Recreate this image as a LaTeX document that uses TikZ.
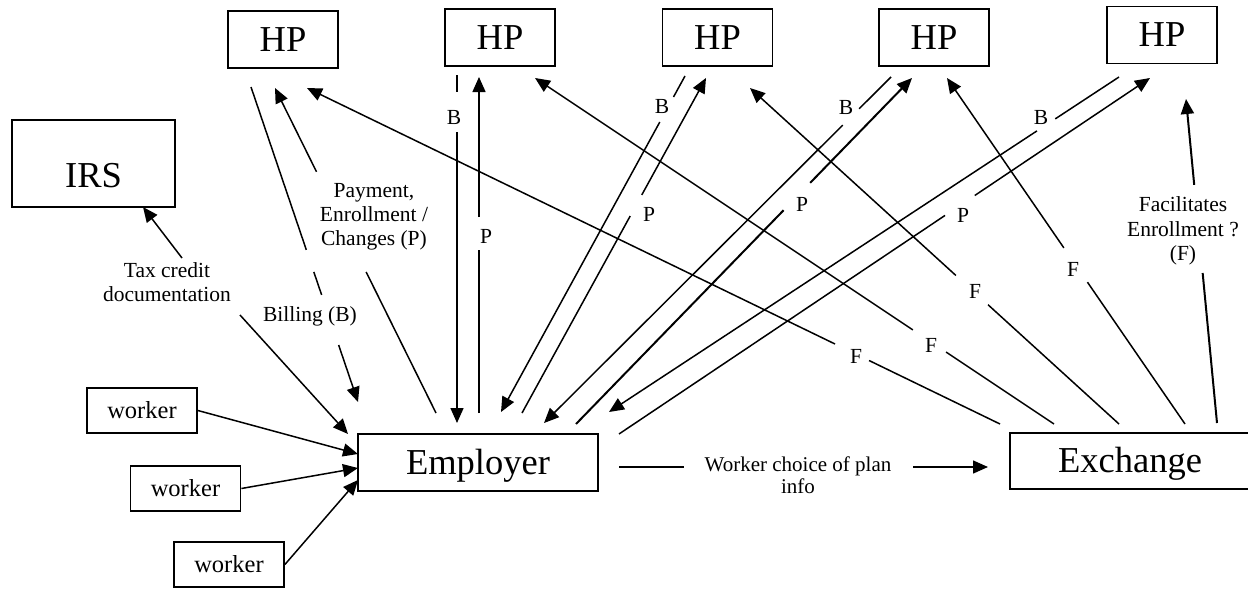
\documentclass[tikz,border=0pt]{standalone}
\usepackage{fontspec}
\setmainfont{Liberation Serif}
\usetikzlibrary{arrows.meta,calc}
\tikzset{
  bx/.style={draw, line width=1.8pt, inner sep=0pt, text height=23pt, text depth=0pt,
    font=\fontsize{36.5}{40}\selectfont},
  hpbox/.style={bx, minimum width=110pt, minimum height=57pt},
  wk/.style={draw, line width=1.8pt, inner sep=0pt, minimum width=110pt, minimum height=45pt,
    text height=16pt, text depth=0pt, font=\fontsize{24.5}{28}\selectfont},
  conn/.style={line width=1.5pt},
  thickconn/.style={line width=2pt},
  arr/.style={-{Triangle[length=15pt,width=13pt]}},
  lbl/.style={font=\fontsize{21.5}{24}\selectfont, inner sep=0pt, align=center},
}
\begin{document}
\begin{tikzpicture}[x=1pt,y=-1pt]
\useasboundingbox (0,0) rectangle (1248,589);
% boxes
\node[hpbox] (hp1) at (283,39.5) {HP};
\node[hpbox] (hp2) at (500,37.5) {HP};
\node[hpbox] (hp3) at (717.5,37.5) {HP};
\node[hpbox] (hp4) at (934,37.5) {HP};
\node[hpbox] (hp5) at (1162,35) {HP};
\node[bx, minimum width=163pt, minimum height=87pt, text height=47pt] (irs) at (93.5,163.5) {IRS};
\node[bx, minimum width=240pt, minimum height=57pt] (emp) at (478,462.5) {Employer};
\node[bx, minimum width=240pt, minimum height=56pt] (exch) at (1130,461) {Exchange};
\node[wk] (w1) at (142,410.5) {worker};
\node[wk] (w2) at (185.5,488.5) {worker};
\node[wk] (w3) at (229,564.5) {worker};

% free ends of connectors
\coordinate (tw1) at (358,454);
\coordinate (tw2) at (358,468);
\coordinate (tw3) at (358,480);
\coordinate (tx1) at (182,258);
\coordinate (tx2) at (143,207);
\coordinate (tx3) at (240,315);
\coordinate (tx4) at (348,434);
\coordinate (bils) at (251,87);
\coordinate (bile) at (358,402);
\coordinate (pay1s) at (436,413);
\coordinate (pay1e) at (275,88);
\coordinate (f1s) at (1000,424);
\coordinate (f1e) at (307,88);
\coordinate (f2s) at (1054,424);
\coordinate (f2e) at (535,78);
\coordinate (f3s) at (1119,424);
\coordinate (f3e) at (750,88);
\coordinate (f4s) at (1185,424);
\coordinate (f4e) at (947,78);
\coordinate (fcs) at (1217,423);
\coordinate (fce) at (1186,99);
\coordinate (wcs) at (619,467);
\coordinate (wce) at (988,467);
\coordinate (b2s) at (457,75);
\coordinate (b2e) at (457,423);
\coordinate (p2s) at (479,413);
\coordinate (p2e) at (479,77);
\coordinate (b3s) at (685,76);
\coordinate (b3e) at (501,412);
\coordinate (p3s) at (522,413);
\coordinate (p3e) at (706,78);
\coordinate (b4s) at (891,77);
\coordinate (b4e) at (544,423);
\coordinate (p4s) at (576,424);
\coordinate (p4e) at (912,78);
\coordinate (b5s) at (1119,77);
\coordinate (b5e) at (609,412);
\coordinate (p5s) at (619,434);
\coordinate (p5e) at (1150,78);

% workers to employer
\draw[conn,arr] (w1.east) -- (tw1);
\draw[conn,arr] (w2.east) -- (tw2);
\draw[conn,arr] (w3.east) -- (tw3);
% tax credit documentation
\draw[conn,arr] (tx1) -- (tx2);
\draw[conn,arr] (tx3) -- (tx4);
% billing and payment with HP 1
\draw[conn,arr] (bils) -- ($(bils)!0.517!(bile)$) ($(bils)!0.587!(bile)$) -- ($(bils)!0.660!(bile)$)
  ($(bils)!0.819!(bile)$) -- (bile);
\draw[conn,arr] (pay1s) -- ($(pay1s)!0.434!(pay1e)$) ($(pay1s)!0.742!(pay1e)$) -- (pay1e);
% B and P lines
\draw[conn,arr] (b2s) -- ($(b2s)!0.049!(b2e)$) ($(b2s)!0.164!(b2e)$) -- (b2e);
\draw[conn,arr] (p2s) -- ($(p2s)!0.485!(p2e)$) ($(p2s)!0.583!(p2e)$) -- (p2e);
\draw[conn,arr] (b3s) -- ($(b3s)!0.0625!(b3e)$) ($(b3s)!0.137!(b3e)$) -- (b3e);
\draw[conn,arr] (p3s) -- ($(p3s)!0.588!(p3e)$) ($(p3s)!0.651!(p3e)$) -- (p3e);
\draw[conn,arr] (b4s) -- ($(b4s)!0.092!(b4e)$) ($(b4s)!0.139!(b4e)$) -- (b4e);
\draw[thickconn,arr] (p4s) -- ($(p4s)!0.618!(p4e)$) ($(p4s)!0.697!(p4e)$) -- (p4e);
\draw[conn,arr] (b5s) -- ($(b5s)!0.125!(b5e)$) ($(b5s)!0.161!(b5e)$) -- (b5e);
\draw[conn,arr] (p5s) -- ($(p5s)!0.614!(p5e)$) ($(p5s)!0.670!(p5e)$) -- (p5e);
% F lines from exchange
\draw[conn,arr] (f1s) -- ($(f1s)!0.189!(f1e)$) ($(f1s)!0.238!(f1e)$) -- (f1e);
\draw[conn,arr] (f2s) -- ($(f2s)!0.208!(f2e)$) ($(f2s)!0.272!(f2e)$) -- (f2e);
\draw[conn,arr] (f3s) -- ($(f3s)!0.355!(f3e)$) ($(f3s)!0.442!(f3e)$) -- (f3e);
\draw[conn,arr] (f4s) -- ($(f4s)!0.410!(f4e)$) ($(f4s)!0.509!(f4e)$) -- (f4e);
\draw[thickconn,arr] (fcs) -- ($(fcs)!0.463!(fce)$) ($(fcs)!0.735!(fce)$) -- (fce);
% worker choice
\draw[conn,arr] (wcs) -- ($(wcs)!0.176!(wce)$) ($(wcs)!0.797!(wce)$) -- (wce);

% labels
\node[lbl] (ltax) at (167,282) {Tax credit\\documentation};
\node[lbl] (lpay) at (374,217) {Payment,\\Enrollment /\\Changes (P)};
\node[lbl] (lbil) at (310,316) {Billing (B)};
\node[lbl, font=\fontsize{21}{22}\selectfont] (lwc) at (798,475) {Worker choice of plan\\info};
\node[lbl, font=\fontsize{21.5}{24.5}\selectfont] (lfac) at (1183,231) {Facilitates\\Enrollment ?\\(F)};
\node[lbl] (lb2) at (454,117) {B};
\node[lbl] (lp2) at (486,236) {P};
\node[lbl] (lb3) at (662,106) {B};
\node[lbl] (lp3) at (649,214) {P};
\node[lbl] (lb4) at (846,107) {B};
\node[lbl] (lp4) at (802,204) {P};
\node[lbl] (lb5) at (1041,117) {B};
\node[lbl] (lp5) at (963,215) {P};
\node[lbl] (lf1) at (856,356) {F};
\node[lbl] (lf2) at (931,345) {F};
\node[lbl] (lf3) at (975,291) {F};
\node[lbl] (lf4) at (1073,269) {F};
\end{tikzpicture}
\end{document}
